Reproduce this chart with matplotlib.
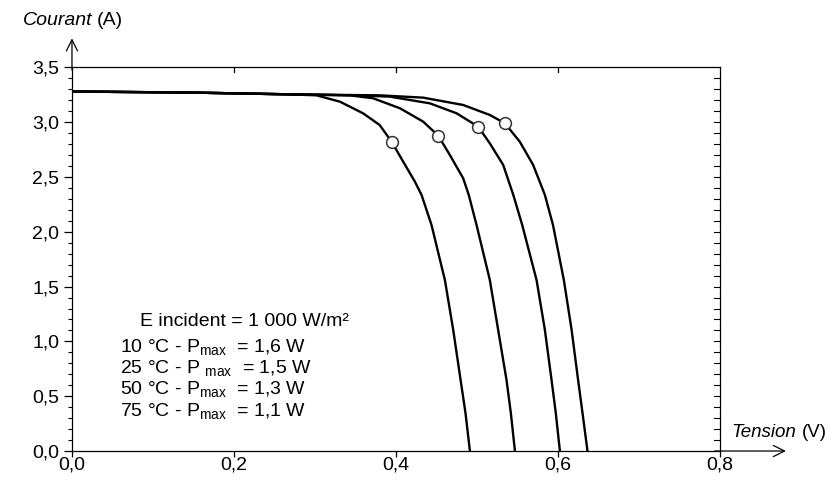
import matplotlib
matplotlib.use("Agg")
import matplotlib.pyplot as plt

plt.rcParams['font.family'] = ['Liberation Sans', 'DejaVu Sans']
plt.rcParams['mathtext.fontset'] = 'custom'
plt.rcParams['mathtext.rm'] = 'Liberation Sans'
plt.rcParams['mathtext.it'] = 'Liberation Sans:italic'

# I-V curves (voltage V, current A)
v_10 = [0, 0.15, 0.269, 0.38, 0.4337, 0.4831, 0.516, 0.5346, 0.553, 0.5695, 0.584, 0.594, 0.6074, 0.617, 0.625, 0.6305, 0.6366]
i_10 = [3.28, 3.27, 3.254, 3.245, 3.224, 3.157, 3.066, 2.99, 2.822, 2.61, 2.336, 2.062, 1.56, 1.104, 0.648, 0.344, 0.0]

v_25 = [0, 0.15, 0.269, 0.35, 0.3926, 0.442, 0.475, 0.5016, 0.516, 0.5325, 0.545, 0.556, 0.5737, 0.584, 0.5922, 0.5975, 0.6025]
i_25 = [3.28, 3.27, 3.254, 3.245, 3.233, 3.172, 3.081, 2.959, 2.807, 2.61, 2.336, 2.062, 1.56, 1.104, 0.648, 0.344, 0.0]

v_50 = [0, 0.15, 0.269, 0.343, 0.372, 0.405, 0.4337, 0.4523, 0.4667, 0.4831, 0.490, 0.4996, 0.516, 0.5263, 0.5366, 0.542, 0.547]
i_50 = [3.28, 3.27, 3.254, 3.245, 3.218, 3.127, 3.005, 2.877, 2.70, 2.488, 2.336, 2.062, 1.56, 1.104, 0.648, 0.344, 0.0]

v_75 = [0, 0.15, 0.269, 0.302, 0.331, 0.3597, 0.380, 0.3947, 0.409, 0.4235, 0.4317, 0.444, 0.4605, 0.4708, 0.4799, 0.486, 0.4914]
i_75 = [3.28, 3.27, 3.254, 3.245, 3.187, 3.08, 2.974, 2.822, 2.64, 2.457, 2.336, 2.062, 1.56, 1.104, 0.648, 0.344, 0.0]

# maximum power points
mpp_v = [0.3947, 0.4523, 0.5016, 0.5346]
mpp_i = [2.822, 2.877, 2.959, 2.99]

x_ticks = [0.0, 0.2, 0.4, 0.6, 0.8]
x_labels = ['0,0', '0,2', '0,4', '0,6', '0,8']
y_ticks = [0.0, 0.5, 1.0, 1.5, 2.0, 2.5, 3.0, 3.5]
y_labels = ['0,0', '0,5', '1,0', '1,5', '2,0', '2,5', '3,0', '3,5']

legend_lines = [
    'E incident = 1 000 W/m²',
    '10 °C - P$_{\\rm max}$  = 1,6 W',
    '25 °C - P $_{\\rm max}$  = 1,5 W',
    '50 °C - P$_{\\rm max}$  = 1,3 W',
    '75 °C - P$_{\\rm max}$  = 1,1 W',
]

FS = 14

fig = plt.figure(figsize=(8.32, 4.92), dpi=100)
ax = fig.add_axes([0.0865, 0.0833, 0.876, 0.8577])
ax.set_xlim(0, 0.9)
ax.set_ylim(0, 3.85)

for s in ['top', 'right']:
    ax.spines[s].set_visible(False)
ax.spines['left'].set_bounds(0, 3.5)
ax.spines['bottom'].set_bounds(0, 0.8)
for s in ['left', 'bottom']:
    ax.spines[s].set_linewidth(0.9)

# frame lines (top at 3.5, right at 0.8)
ax.plot([0, 0.8], [3.5, 3.5], color='black', lw=0.9)
ax.plot([0.8, 0.8], [0, 3.5], color='black', lw=0.9)

# axis arrows
ax.annotate('', xy=(0.885, 0), xytext=(0.79, 0),
            arrowprops=dict(arrowstyle='->', color='black', lw=0.9, mutation_scale=20),
            annotation_clip=False)
ax.annotate('', xy=(0, 3.79), xytext=(0, 3.45),
            arrowprops=dict(arrowstyle='->', color='black', lw=0.9, mutation_scale=20),
            annotation_clip=False)

ax.set_xticks(x_ticks)
ax.set_xticklabels(x_labels, fontsize=FS)
ax.set_yticks(y_ticks)
ax.set_yticklabels(y_labels, fontsize=FS)
ax.set_yticks([k / 10 for k in range(36)], minor=True)
ax.tick_params(axis='y', which='major', direction='out', length=6, width=0.9, pad=3)
ax.tick_params(axis='y', which='minor', direction='out', length=3, width=0.8)
ax.tick_params(axis='x', which='major', direction='out', length=4, width=0.9, pad=0)

# top border ticks and right border minor ticks
for xv in x_ticks[1:4]:
    ax.plot([xv, xv], [3.5, 3.455], color='black', lw=0.9)
for k in range(1, 35):
    yv = k / 10
    ax.plot([0.8, 0.793], [yv, yv], color='black', lw=0.8)

for v, i in [(v_10, i_10), (v_25, i_25), (v_50, i_50), (v_75, i_75)]:
    ax.plot(v, i, color='black', lw=1.7, solid_joinstyle='round', solid_capstyle='round')

ax.plot(mpp_v, mpp_i, linestyle='none', marker='o', markersize=8.5,
        markerfacecolor='white', markeredgecolor='#333333', markeredgewidth=1.1, zorder=5)

# annotation block
ax.text(0.084, 1.18, legend_lines[0], fontsize=FS, va='center', ha='left')
for n, line in enumerate(legend_lines[1:]):
    ax.text(0.0593, 0.952 - n * 0.195, line, fontsize=FS, va='center', ha='left')

# axis titles
fig.text(0.0273, 0.959, 'Courant', fontsize=FS, style='italic', va='center', ha='left')
fig.text(0.1162, 0.959, '(A)', fontsize=FS, va='center', ha='left')
fig.text(0.8795, 0.12, 'Tension', fontsize=13.5, style='italic', va='center', ha='left')
fig.text(0.9636, 0.12, '(V)', fontsize=13.5, va='center', ha='left')

fig.savefig('out.png', dpi=100)
